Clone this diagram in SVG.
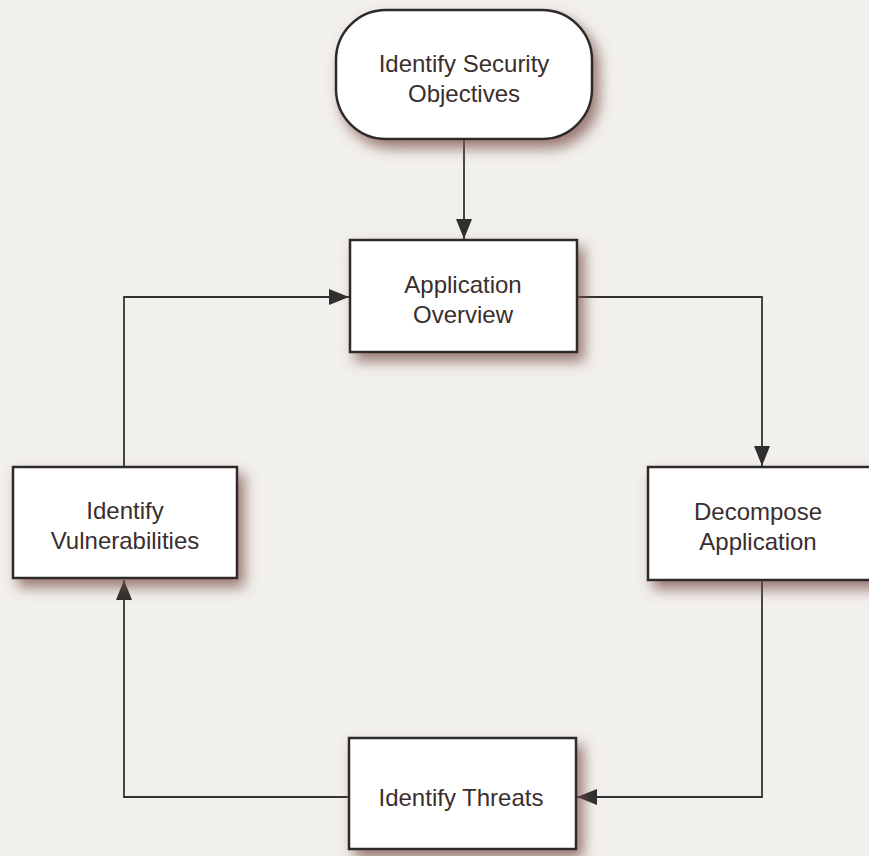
<svg xmlns="http://www.w3.org/2000/svg" width="869" height="856" viewBox="0 0 869 856">
  <defs>
    <filter id="shadow" x="-20%" y="-20%" width="150%" height="150%">
      <feGaussianBlur in="SourceAlpha" stdDeviation="7"/>
      <feOffset dx="6" dy="8" result="b"/>
      <feFlood flood-color="#7a5048" flood-opacity="0.75"/>
      <feComposite in2="b" operator="in"/>
      <feMerge><feMergeNode/><feMergeNode in="SourceGraphic"/></feMerge>
    </filter>
    <marker id="arrow" viewBox="0 0 20 16" refX="20" refY="8" markerWidth="20" markerHeight="16" markerUnits="userSpaceOnUse" orient="auto">
      <path d="M0,0 L20,8 L0,16 Z" fill="#2f2f2f"/>
    </marker>
    <style>
      .node { fill: #ffffff; stroke: #2e2a2a; stroke-width: 2.5; filter: url(#shadow); }
      .label { font-family: 'Liberation Sans', Arial, Helvetica, sans-serif; font-size: 24px; fill: #3a2e2e; text-anchor: middle; }
      .conn { fill: none; stroke: #333333; stroke-width: 1.8; marker-end: url(#arrow); }
    </style>
  </defs>
  <rect width="869" height="856" fill="#f2f0ed"/>
  <g id="connectors">
    <path class="conn" d="M464,140 L464,239"/>
    <path class="conn" d="M577,297 L762,297 L762,466"/>
    <path class="conn" d="M762,580 L762,797 L577,797"/>
    <path class="conn" d="M349,797 L124,797 L124,580"/>
    <path class="conn" d="M124,467 L124,297 L349,297"/>
  </g>
  <g id="identify-security-objectives">
    <rect class="node" x="336" y="10" width="256" height="129" rx="50" ry="50"/>
    <text class="label" x="464" y="72">Identify Security</text>
    <text class="label" x="464" y="102">Objectives</text>
  </g>
  <g id="application-overview">
    <rect class="node" x="350" y="240" width="227" height="112"/>
    <text class="label" x="463" y="293">Application</text>
    <text class="label" x="463" y="323">Overview</text>
  </g>
  <g id="decompose-application">
    <rect class="node" x="648" y="467" width="226" height="113"/>
    <text class="label" x="758" y="520">Decompose</text>
    <text class="label" x="758" y="550">Application</text>
  </g>
  <g id="identify-threats">
    <rect class="node" x="349" y="738" width="227" height="111"/>
    <text class="label" x="461" y="806">Identify Threats</text>
  </g>
  <g id="identify-vulnerabilities">
    <rect class="node" x="13" y="467" width="224" height="111"/>
    <text class="label" x="125" y="519">Identify</text>
    <text class="label" x="125" y="549">Vulnerabilities</text>
  </g>
</svg>
